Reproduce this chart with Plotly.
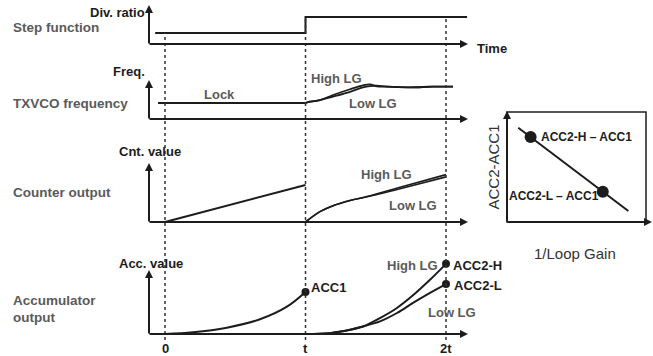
import plotly.graph_objects as go

# ---------------- data ----------------
time_ticks = [0, 1, 2]
time_tick_labels = ["0", "t", "2t"]

# Step function (division ratio)
step_t = [-0.07, 1.0, 1.0, 2.15]
step_ratio = [0.41, 0.41, 1.0, 1.0]

# TXVCO frequency
lock_t = [-0.05, 1.0]
lock_freq = [0.5, 0.5]
vco_t = [1.0, 1.032, 1.103, 1.196, 1.317, 1.409, 1.459, 1.509, 1.58, 1.744, 1.907, 2.05]
vco_high = [0.5, 0.54, 0.59, 0.75, 0.93, 1.05, 1.08, 1.02, 1.01, 0.99, 1.01, 1.01]
vco_low = [0.5, 0.54, 0.59, 0.70, 0.85, 0.99, 1.03, 1.04, 1.01, 0.99, 1.01, 1.01]

# Counter output
cnt_t1 = [0.0, 1.0]
cnt_v1 = [0.0, 1.0]
cnt_t2 = [1.0, 1.103, 1.196, 1.317, 1.438, 1.673, 2.0]
cnt_high = [0.0, 0.28, 0.44, 0.58, 0.69, 0.94, 1.28]
cnt_low = [0.0, 0.28, 0.44, 0.58, 0.68, 0.90, 1.22]

# Accumulator output
acc_t1 = [0.0, 0.2, 0.44, 0.676, 0.868, 1.0]
acc_v1 = [0.0, 0.04, 0.15, 0.35, 0.65, 1.0]
acc_t2 = [1.0, 1.174, 1.317, 1.409, 1.530, 1.651, 1.765, 1.886, 2.0]
acc_high = [0.0, 0.02, 0.10, 0.18, 0.38, 0.62, 0.92, 1.29, 1.67]
acc_low = [0.0, 0.02, 0.10, 0.18, 0.30, 0.50, 0.74, 0.98, 1.19]
acc1_point = [1.0, 1.0]
acc2_t = [2.0, 2.0]
acc2_v = [1.67, 1.19]

# Right panel: (ACC2 - ACC1) vs 1/Loop gain
lg_x = [0.081, 0.873]
lg_y = [0.857, 0.10]
lg_pts_x = [0.17, 0.689]
lg_pts_y = [0.772, 0.276]

# ---------------- layout geometry (pixels) ----------------
W, H = 653, 356
X0_PX, T_PX = 165, 140.5          # pixel of time 0, pixels per t
AX_LEFT, AX_RIGHT = 149, 468      # timing axes x extent
# panel: (baseline px, px per unit, axis-top px)
PANELS = {"y": (44, 27, 5), "y2": (119, 32, 80), "y3": (222, 37, 163), "y4": (334, 42, 270)}
DOT_TOPS = [33, 17, 18]
DOT_BOTTOM = 340
RP = dict(left=507, right=646, top=112, bottom=222)

INK = "#1c1c1c"
GRAY = "#5a5a5a"
FONT = "Liberation Sans, Arial, sans-serif"


def px(x):
    return x / W


def py(y):
    return 1 - y / H


fig = go.Figure()


def add_line(t, v, yaxis, shape="spline", xaxis="x", width=2):
    fig.add_trace(go.Scatter(x=t, y=v, xaxis=xaxis, yaxis=yaxis, mode="lines",
                             line=dict(color=INK, width=width, shape=shape, smoothing=1.0),
                             hoverinfo="skip", showlegend=False))


add_line(step_t, step_ratio, "y", shape="linear")
add_line(lock_t, lock_freq, "y2", shape="linear")
add_line(vco_t, vco_low, "y2", width=1.8)
add_line(vco_t, vco_high, "y2", width=1.8)
add_line(cnt_t1, cnt_v1, "y3", shape="linear")
add_line(cnt_t2, cnt_low, "y3", width=1.6)
add_line(cnt_t2, cnt_high, "y3", width=1.6)
add_line(acc_t1, acc_v1, "y4")
add_line(acc_t2, acc_low, "y4")
add_line(acc_t2, acc_high, "y4")

fig.add_trace(go.Scatter(x=[acc1_point[0]] + acc2_t, y=[acc1_point[1]] + acc2_v, xaxis="x", yaxis="y4",
                         mode="markers", marker=dict(color=INK, size=8), cliponaxis=False,
                         hoverinfo="skip", showlegend=False))

add_line(lg_x, lg_y, "y5", shape="linear", xaxis="x2")
fig.add_trace(go.Scatter(x=lg_pts_x, y=lg_pts_y, xaxis="x2", yaxis="y5", mode="markers",
                         marker=dict(color=INK, size=12), cliponaxis=False,
                         hoverinfo="skip", showlegend=False))

# axes
hidden = dict(visible=False, fixedrange=True)
layout_axes = {
    "xaxis": dict(domain=[0, 1], range=[-X0_PX / T_PX, (W - X0_PX) / T_PX], **hidden),
    "xaxis2": dict(domain=[px(RP["left"]), px(RP["right"])], range=[0, 1], anchor="y5", **hidden),
    "yaxis5": dict(domain=[py(RP["bottom"]), py(RP["top"])], range=[0, 1], anchor="x2", **hidden),
}
for name, (b, s, _top) in PANELS.items():
    key = "yaxis" if name == "y" else "yaxis" + name[1:]
    ax = dict(domain=[0, 1], range=[(b - H) / s, b / s], **hidden)
    if name != "y":
        ax["overlaying"] = "y"
    layout_axes[key] = ax

annotations = []
shapes = []


def arrow(x_head, y_head, x_tail, y_tail, width=2):
    annotations.append(dict(xref="paper", yref="paper", x=px(x_head), y=py(y_head),
                            ax=x_tail - x_head, ay=y_tail - y_head, axref="pixel", ayref="pixel",
                            text="", showarrow=True, arrowhead=2, arrowsize=0.8,
                            arrowwidth=width, arrowcolor=INK, standoff=0, startstandoff=0))


def label(text, x, y, size=13, color=INK, bold=True, xanchor="left", angle=0):
    annotations.append(dict(xref="paper", yref="paper", x=px(x), y=py(y), xanchor=xanchor,
                            yanchor="middle", text=("<b>%s</b>" % text) if bold else text,
                            showarrow=False, textangle=angle,
                            font=dict(family=FONT, size=size, color=color)))


# timing panel axes
for name, (b, s, top) in PANELS.items():
    arrow(AX_RIGHT, b, AX_LEFT - 1, b)
    arrow(AX_LEFT, top, AX_LEFT, b + 1)

# dotted time markers
for t, top in zip(time_ticks, DOT_TOPS):
    shapes.append(dict(type="line", xref="x", yref="paper", x0=t, x1=t, y0=py(DOT_BOTTOM), y1=py(top),
                       line=dict(color="#333333", width=1.5, dash="dot")))

# right panel frame
shapes.append(dict(type="rect", xref="paper", yref="paper", x0=px(RP["left"]), x1=px(RP["right"]),
                   y0=py(RP["bottom"]), y1=py(RP["top"]), line=dict(color=INK, width=1.5)))
arrow(RP["right"] + 6, RP["bottom"], RP["left"] - 1, RP["bottom"])
arrow(RP["left"], RP["top"] - 1, RP["left"], RP["bottom"] + 1)

# tick labels
for t, lab in zip(time_ticks, time_tick_labels):
    annotations.append(dict(xref="x", yref="paper", x=t, y=py(348), xanchor="center", yanchor="middle",
                            text="<b>%s</b>" % lab, showarrow=False,
                            font=dict(family=FONT, size=13, color=INK)))

# text labels
label("Div. ratio", 147, 12.5, xanchor="right")
label("Step function", 11, 27.5, color=GRAY, size=13.5)
label("Time", 475, 49)
label("Freq.", 147, 71, xanchor="right")
label("TXVCO frequency", 11, 103.5, color=GRAY, size=13.5)
label("Lock", 202, 95, color=GRAY)
label("High LG", 309, 78, color=GRAY)
label("Low LG", 347, 103, color=GRAY)
label("Cnt. value", 117, 152)
label("Counter output", 11, 192.5, color=GRAY, size=13.5)
label("High LG", 359, 174.5, color=GRAY)
label("Low LG", 387, 205, color=GRAY)
label("Acc. value", 117, 263)
label("Accumulator", 11, 300, color=GRAY, size=13.5)
label("output", 11, 317, color=GRAY, size=13.5)
label("ACC1", 309, 287)
label("High LG", 385, 265.5, color=GRAY)
label("ACC2-H", 451, 265)
label("ACC2-L", 452, 285)
label("Low LG", 426, 312.5, color=GRAY)
label("ACC2-H – ACC1", 539, 136.5, size=12)
label("ACC2-L – ACC1", 507, 196, size=12)
label("ACC2-ACC1", 492.5, 167, size=15, color="#333333", bold=False, xanchor="center", angle=-90)
label("1/Loop Gain", 574.5, 253, size=15, color="#333333", bold=False, xanchor="center")

fig.update_layout(width=W, height=H, margin=dict(l=0, r=0, t=0, b=0),
                  paper_bgcolor="white", plot_bgcolor="white", showlegend=False,
                  annotations=annotations, shapes=shapes, **layout_axes)

fig.write_html("out.html", config={"displayModeBar": False})
